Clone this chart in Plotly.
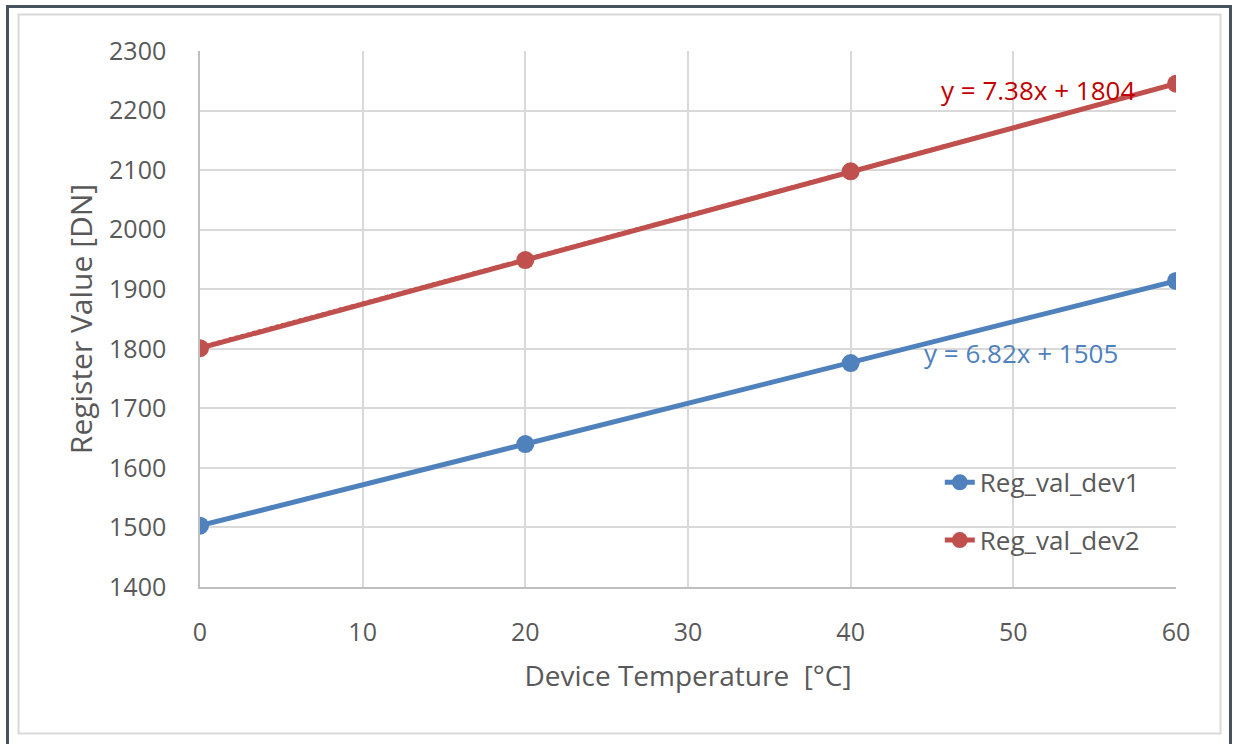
import plotly.graph_objects as go

temps = [0, 20, 40, 60]
reg_dev1 = [1503, 1640, 1776, 1914]
reg_dev2 = [1801, 1949, 2098, 2245]

# linear trendline coefficients as shown on the chart
slopes = [6.82, 7.38]
intercepts = [1505, 1804]
trend_labels = ["y = 6.82x + 1505", "y = 7.38x + 1804"]
label_pos = [(50.5, 1793), (51.5, 2235)]

names = ["Reg_val_dev1", "Reg_val_dev2"]
colors = ["#4f81bd", "#c0504d"]
label_colors = ["#4f81bd", "#c00000"]

FONT = "Open Sans"
GREY = "#595959"

fig = go.Figure()

# trendlines (dotted, mostly hidden under the series lines)
for m, b, c in zip(slopes, intercepts, colors):
    xs = [temps[0], temps[-1]]
    fig.add_trace(go.Scatter(
        x=xs, y=[m * x + b for x in xs],
        mode="lines", line=dict(color=c, width=2, dash="dot"),
        showlegend=False, hoverinfo="skip"))

for name, ys, c in zip(names, [reg_dev1, reg_dev2], colors):
    fig.add_trace(go.Scatter(
        x=temps, y=ys, name=name, legendgroup=name,
        mode="lines+markers",
        line=dict(color=c, width=5),
        marker=dict(color=c, size=18)))

for txt, (ax, ay), c in zip(trend_labels, label_pos, label_colors):
    fig.add_annotation(x=ax, y=ay, text=txt, showarrow=False,
                       font=dict(family=FONT, size=26, color=c))

# outer frame and chart-area border
fig.add_shape(type="rect", xref="paper", yref="paper",
              x0=(7.5 - 200) / 976, x1=(1230.5 - 200) / 976,
              y0=(587 - 770) / 536, y1=(587 - 6.5) / 536,
              line=dict(color="#46535e", width=3), layer="below")
fig.add_shape(type="rect", xref="paper", yref="paper",
              x0=(18.5 - 200) / 976, x1=(1220.5 - 200) / 976,
              y0=(587 - 733.5) / 536, y1=(587 - 14.5) / 536,
              line=dict(color="#d9d9d9", width=2), layer="below")

fig.update_layout(
    width=1237, height=744,
    margin=dict(l=200, r=61, t=51, b=157),
    paper_bgcolor="white", plot_bgcolor="white",
    font=dict(family=FONT, size=25, color=GREY),
    legend=dict(x=0.758, y=0.239, xanchor="left", yanchor="top",
                bgcolor="rgba(0,0,0,0)", tracegroupgap=21,
                font=dict(family=FONT, size=26, color=GREY)),
    xaxis=dict(range=[0, 60], dtick=10, showgrid=True,
               gridcolor="#d9d9d9", gridwidth=1.5,
               showline=True, linecolor="#bfbfbf", linewidth=1.5,
               zeroline=False, ticks="outside", ticklen=22,
               tickcolor="rgba(0,0,0,0)",
               tickfont=dict(family=FONT, size=25, color=GREY),
               title=dict(text="Device Temperature  [°C]", standoff=20,
                          font=dict(family=FONT, size=28, color=GREY))),
    yaxis=dict(range=[1400, 2300], dtick=100, showgrid=True,
               gridcolor="#d9d9d9", gridwidth=1.5,
               showline=True, linecolor="#bfbfbf", linewidth=1.5,
               zeroline=False, ticks="outside", ticklen=27,
               tickcolor="rgba(0,0,0,0)",
               tickfont=dict(family=FONT, size=25, color=GREY),
               title=dict(text="Register Value [DN]", standoff=8,
                          font=dict(family=FONT, size=30, color=GREY))),
)

fig.write_html("out.html", config={"displayModeBar": False},
               post_script="document.body.style.margin='0';")
